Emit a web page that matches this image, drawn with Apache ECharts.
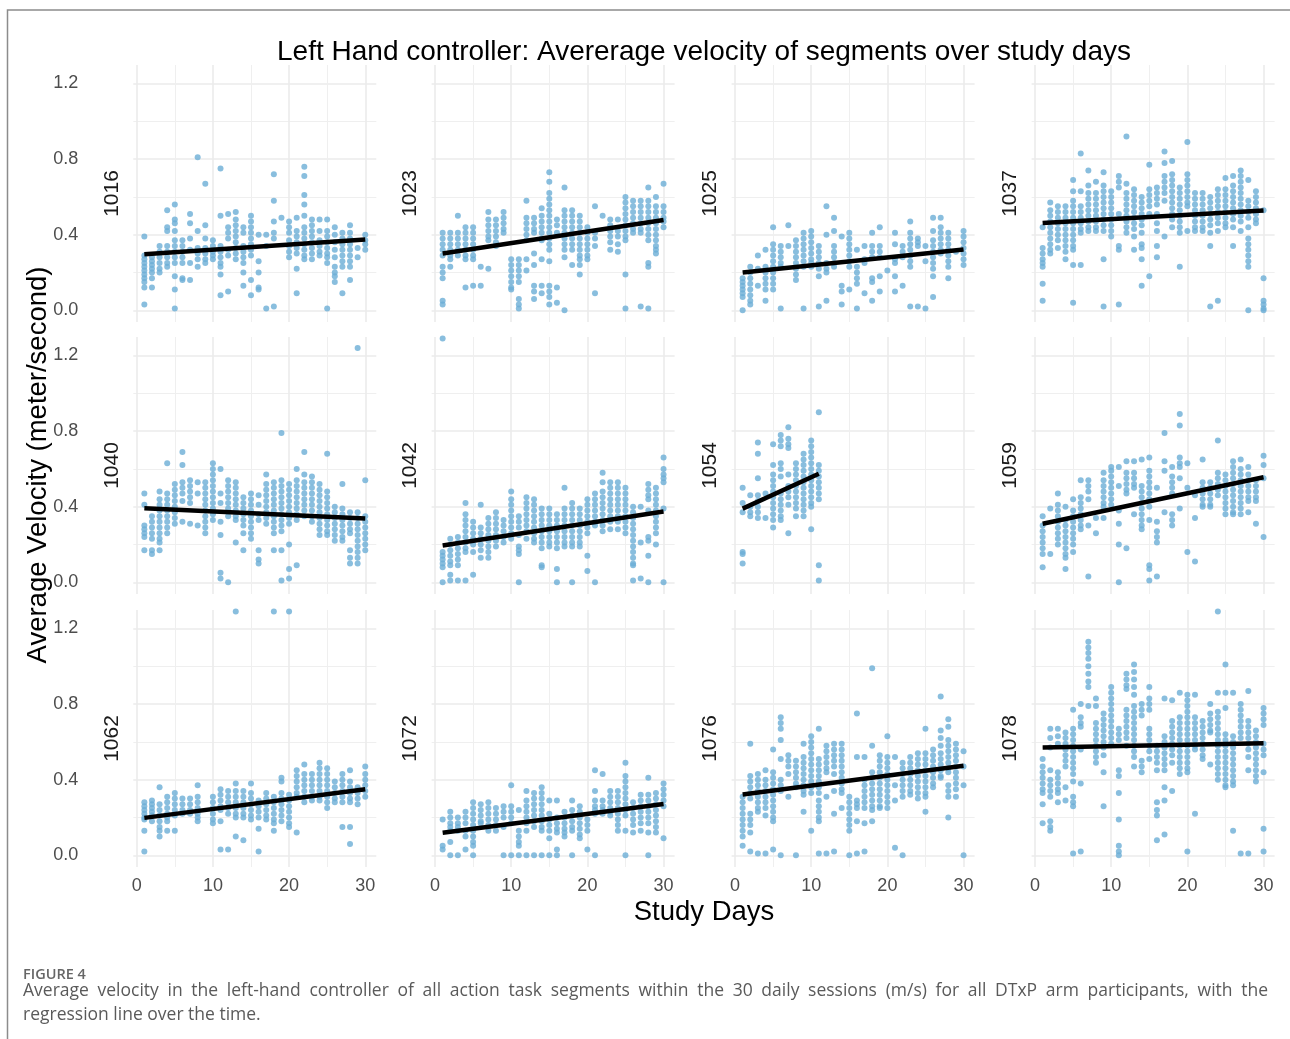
<!DOCTYPE html>
<html>
<head>
<meta charset="utf-8">
<title>Left Hand controller: average velocity</title>
<script src="https://cdn.jsdelivr.net/npm/echarts@6/dist/echarts.min.js"></script>
<style>
html, body { margin: 0; padding: 0; background: #fff; }
#chart { width: 1290px; height: 1039px; }
</style>
</head>
<body>
<div id="chart"></div>
<script>
// participants, in facet order (3 rows x 4 columns)
let participants = ['1016', '1023', '1025', '1037', '1040', '1042', '1054', '1059', '1062', '1072', '1076', '1078'];

// per participant: one list of segment velocities for each study day (day 1..30)
let v1016 = [
    [0.39,0.29,0.27,0.25,0.23,0.21,0.19,0.17,0.15,0.12,0.03], [0.28,0.26,0.24,0.22,0.20,0.17,0.12], [0.34,0.31,0.28,0.25,0.22,0.20],
    [0.53,0.44,0.42,0.34,0.31,0.28,0.25,0.23], [0.56,0.48,0.46,0.42,0.37,0.34,0.31,0.28,0.25,0.18,0.11,0.01], [0.37,0.34,0.31,0.28,0.25,0.17,0.16],
    [0.51,0.46,0.38,0.32,0.25,0.16], [0.81,0.42,0.33,0.30,0.27,0.23], [0.67,0.45,0.38,0.33,0.30,0.27,0.25],
    [0.37,0.34,0.31,0.29,0.27], [0.75,0.50,0.34,0.31,0.28,0.25,0.23,0.19,0.08], [0.51,0.44,0.41,0.38,0.32,0.29,0.10],
    [0.52,0.48,0.45,0.42,0.39,0.36,0.33,0.30,0.27], [0.44,0.41,0.34,0.31,0.28,0.25,0.20,0.13], [0.50,0.47,0.44,0.41,0.38,0.35,0.32,0.29,0.16,0.08],
    [0.40,0.26,0.20,0.12,0.11], [0.40,0.34,0.01], [0.72,0.58,0.47,0.41,0.38,0.02],
    [0.49], [0.47,0.44,0.41,0.37,0.34,0.31,0.28], [0.49,0.42,0.39,0.36,0.33,0.30,0.22,0.09],
    [0.76,0.71,0.61,0.56,0.50,0.44,0.41,0.38,0.35,0.32,0.29,0.27], [0.48,0.45,0.42,0.39,0.36,0.33,0.30,0.27], [0.48,0.42,0.37,0.34,0.31,0.29],
    [0.48,0.42,0.39,0.36,0.33,0.30,0.28,0.25,0.01], [0.44,0.40,0.36,0.32,0.28,0.23,0.20,0.18,0.15], [0.41,0.38,0.35,0.32,0.29,0.26,0.23,0.09],
    [0.45,0.41,0.38,0.35,0.32,0.29,0.26,0.23,0.16], [0.33,0.28], [0.40,0.37,0.35,0.32]
];
let v1023 = [
    [0.41,0.38,0.35,0.32,0.29,0.23,0.20,0.17,0.05,0.03], [0.41,0.38,0.35,0.32,0.29,0.27,0.23], [0.50,0.41,0.38,0.35,0.32,0.29],
    [0.44,0.41,0.38,0.35,0.32,0.29,0.27,0.12], [0.44,0.41,0.38,0.35,0.32,0.29,0.27,0.13], [0.23,0.13],
    [0.52,0.48,0.45,0.42,0.39,0.37,0.22], [0.48,0.45,0.42,0.39,0.36,0.34], [0.52,0.49,0.46,0.43,0.41],
    [0.27,0.24,0.21,0.18,0.15,0.12,0.11], [0.27,0.24,0.21,0.18,0.15,0.06,0.03,0.01], [0.58,0.49,0.46,0.43,0.40,0.37,0.27,0.21],
    [0.49,0.46,0.43,0.41,0.30,0.24,0.13,0.10,0.06], [0.54,0.50,0.47,0.44,0.41,0.38,0.37,0.27,0.13,0.09],
    [0.73,0.68,0.62,0.59,0.56,0.53,0.50,0.47,0.44,0.41,0.38,0.35,0.32,0.26,0.13,0.10,0.07,0.03],
    [0.48,0.45,0.41,0.12,0.04], [0.65,0.53,0.50,0.47,0.44,0.41,0.38,0.35,0.32,0.28,0.00], [0.53,0.50,0.47,0.44,0.41,0.38,0.35,0.32,0.24],
    [0.50,0.47,0.44,0.41,0.38,0.35,0.32,0.29,0.27,0.24,0.19], [0.44,0.41,0.38,0.35,0.32,0.29,0.27], [0.55,0.41,0.38,0.34,0.09],
    [0.50], [0.48,0.45,0.42,0.39,0.36,0.32], [0.48,0.42,0.39,0.35,0.31],
    [0.60,0.57,0.54,0.51,0.48,0.45,0.42,0.39,0.37,0.19,0.01], [0.58,0.55,0.52,0.49,0.46,0.43,0.41], [0.58,0.55,0.52,0.49,0.46,0.43,0.41,0.02],
    [0.65,0.58,0.55,0.52,0.49,0.46,0.43,0.40,0.37,0.25,0.23,0.01], [0.60,0.55,0.52,0.49,0.46,0.43,0.40,0.37,0.34,0.32,0.30], [0.67,0.55,0.52,0.49,0.47,0.44]
];
let v1025 = [
    [0.17,0.15,0.13,0.11,0.09,0.07,0.00], [0.23,0.20,0.17,0.14,0.11,0.08,0.05,0.03], [0.29,0.22,0.13],
    [0.32,0.23,0.20,0.17,0.14,0.11,0.05], [0.44,0.35,0.32,0.29,0.26,0.23,0.20,0.17,0.14,0.11], [0.34,0.31,0.28,0.25,0.23,0.01],
    [0.45,0.34], [0.37,0.34,0.31,0.28,0.25,0.22,0.19,0.16], [0.41,0.38,0.35,0.32,0.29,0.26,0.23,0.01],
    [0.42,0.39,0.36,0.33,0.30,0.27,0.25,0.23], [0.34,0.31,0.28,0.25,0.22,0.18,0.02], [0.55,0.40,0.25,0.22,0.20,0.05],
    [0.49,0.42,0.34,0.31,0.28,0.25,0.23], [0.39,0.13,0.10,0.03], [0.41,0.38,0.35,0.32,0.29,0.26,0.23,0.11],
    [0.32,0.23,0.20,0.17,0.14,0.01], [0.34,0.27,0.25,0.09], [0.41,0.34,0.31,0.28,0.17,0.15,0.05],
    [0.44,0.34,0.31,0.28,0.18,0.10], [0.21], [0.41,0.35,0.27,0.25,0.18,0.10],
    [0.34,0.31,0.28,0.13], [0.47,0.41,0.38,0.35,0.32,0.29,0.26,0.23,0.02], [0.38,0.36,0.34,0.02],
    [0.34,0.26,0.01], [0.49,0.42,0.37,0.34,0.31,0.28,0.25,0.22,0.18,0.07], [0.49,0.44,0.41,0.38,0.35,0.32,0.30],
    [0.41,0.38,0.35,0.32,0.29,0.26,0.23,0.17], [0.31], [0.42,0.39,0.36,0.33,0.30,0.27,0.24]
];
let v1037 = [
    [0.44,0.33,0.30,0.27,0.25,0.23,0.14,0.05], [0.57,0.53,0.50,0.47,0.44,0.41,0.38,0.35,0.32,0.30], [0.55,0.52,0.49,0.46,0.43,0.40,0.37,0.33],
    [0.55,0.52,0.49,0.46,0.43,0.40,0.37,0.34,0.31,0.27], [0.69,0.63,0.58,0.55,0.52,0.49,0.46,0.43,0.40,0.37,0.34,0.32,0.24,0.04],
    [0.83,0.63,0.55,0.52,0.49,0.46,0.43,0.41,0.24], [0.74,0.66,0.62,0.59,0.56,0.53,0.50,0.47,0.44,0.42],
    [0.68,0.62,0.59,0.56,0.53,0.50,0.47,0.44,0.42], [0.73,0.66,0.63,0.60,0.57,0.54,0.51,0.48,0.45,0.42,0.27,0.02],
    [0.63,0.60,0.57,0.54,0.51,0.48,0.45,0.42,0.39], [0.71,0.68,0.65,0.51,0.34,0.32,0.03], [0.92,0.67,0.62,0.59,0.56,0.53,0.50,0.47,0.44,0.41],
    [0.64,0.61,0.58,0.55,0.52,0.49,0.46,0.43,0.39,0.32], [0.60,0.57,0.54,0.51,0.48,0.45,0.41,0.35,0.33,0.27,0.13], [0.77,0.64,0.61,0.58,0.55,0.51,0.18],
    [0.65,0.62,0.59,0.56,0.51,0.46,0.42,0.34,0.28], [0.84,0.78,0.71,0.68,0.65,0.62,0.58,0.39], [0.79,0.72,0.69,0.66,0.63,0.60,0.57,0.54,0.51,0.48,0.44],
    [0.65,0.62,0.59,0.56,0.53,0.50,0.47,0.44,0.41,0.23], [0.89,0.72,0.69,0.66,0.63,0.60,0.57,0.55,0.42], [0.62,0.59,0.56,0.53,0.50,0.47,0.44,0.42],
    [0.62,0.59,0.56,0.53,0.50,0.47,0.44,0.42], [0.60,0.57,0.54,0.51,0.48,0.45,0.41,0.34,0.02], [0.64,0.61,0.58,0.55,0.52,0.49,0.46,0.42,0.05],
    [0.70,0.64,0.61,0.58,0.55,0.52,0.49,0.46,0.44], [0.71,0.66,0.63,0.60,0.57,0.54,0.51,0.48,0.44,0.34], [0.74,0.71,0.68,0.65,0.62,0.59,0.56,0.53,0.50,0.47,0.42],
    [0.69,0.58,0.55,0.52,0.49,0.44,0.38,0.35,0.32,0.29,0.26,0.23,0.00], [0.63,0.60,0.57,0.54,0.51,0.48,0.46], [0.53,0.17,0.05,0.03,0.01,0.00]
];
let v1040 = [
    [0.47,0.41,0.30,0.28,0.26,0.24,0.17], [0.35,0.32,0.29,0.26,0.23,0.17,0.15], [0.48,0.44,0.41,0.38,0.35,0.32,0.29,0.26,0.23,0.21,0.17],
    [0.63,0.47,0.44,0.41,0.38,0.35,0.32,0.29,0.26], [0.52,0.49,0.46,0.43,0.40,0.37,0.34,0.31], [0.69,0.62,0.53,0.50,0.47,0.43,0.32],
    [0.54,0.51,0.48,0.45,0.42,0.31], [0.53,0.47,0.30], [0.53,0.50,0.47,0.44,0.41,0.38,0.35,0.32,0.29,0.26],
    [0.63,0.60,0.57,0.54,0.51,0.48,0.45,0.42,0.39,0.36,0.33], [0.60,0.47,0.42,0.32,0.25,0.05,0.02], [0.54,0.51,0.48,0.45,0.42,0.39,0.35,0.00],
    [0.53,0.50,0.47,0.44,0.41,0.38,0.35,0.33,0.21], [0.45,0.42,0.39,0.36,0.33,0.30,0.26,0.17], [0.47,0.44,0.41,0.38,0.35,0.32,0.29,0.26,0.23],
    [0.46,0.41,0.36,0.33,0.17,0.12,0.10], [0.57,0.52,0.49,0.46,0.43,0.40,0.37,0.34,0.31], [0.53,0.50,0.47,0.44,0.41,0.38,0.35,0.32,0.29,0.26,0.17],
    [0.79,0.54,0.51,0.48,0.45,0.42,0.39,0.36,0.33,0.30,0.27,0.17,0.01], [0.52,0.49,0.46,0.43,0.40,0.37,0.34,0.31,0.20,0.07,0.02],
    [0.60,0.54,0.51,0.48,0.45,0.42,0.39,0.36,0.33,0.09], [0.69,0.57,0.53,0.50,0.47,0.44,0.41,0.38,0.35], [0.56,0.53,0.50,0.47,0.44,0.41,0.38,0.35,0.32],
    [0.52,0.49,0.46,0.43,0.40,0.37,0.34,0.31,0.28,0.25], [0.68,0.48,0.45,0.42,0.39,0.36,0.33,0.30,0.27,0.25], [0.40,0.37,0.34,0.31,0.28,0.25,0.22],
    [0.52,0.39,0.36,0.33,0.30,0.27,0.24,0.22], [0.37,0.34,0.31,0.28,0.26,0.17,0.13,0.10], [1.24,0.37,0.34,0.31,0.28,0.25,0.22,0.19,0.16,0.13,0.10],
    [0.54,0.35,0.32,0.29,0.26,0.23,0.20,0.17]
];
let v1042 = [
    [1.29,0.16,0.14,0.12,0.10,0.08,0.00], [0.23,0.20,0.17,0.14,0.11,0.09,0.04,0.01], [0.24,0.21,0.18,0.15,0.12,0.09,0.01],
    [0.42,0.36,0.33,0.30,0.27,0.24,0.21,0.18,0.16,0.01], [0.32,0.29,0.26,0.23,0.20,0.16,0.04], [0.41,0.29,0.26,0.23,0.20,0.17,0.13],
    [0.34,0.31,0.28,0.25,0.22,0.19,0.16,0.13], [0.37,0.34,0.31,0.28,0.25,0.22,0.19], [0.33,0.30,0.27,0.24,0.21],
    [0.48,0.44,0.41,0.38,0.35,0.32,0.29,0.26,0.23], [0.35,0.32,0.29,0.25,0.19,0.17,0.15,0.00], [0.45,0.42,0.39,0.36,0.33,0.30,0.27,0.23],
    [0.44,0.41,0.38,0.35,0.32,0.29,0.26,0.23,0.21], [0.39,0.36,0.33,0.30,0.27,0.24,0.21,0.18,0.09,0.08], [0.39,0.36,0.33,0.30,0.27,0.24,0.21,0.19],
    [0.36,0.33,0.30,0.27,0.24,0.21,0.18,0.07,0.00], [0.50,0.39,0.36,0.33,0.30,0.27,0.24,0.21,0.19], [0.42,0.39,0.36,0.33,0.30,0.27,0.24,0.21,0.19,0.00],
    [0.39,0.36,0.33,0.30,0.27,0.24,0.21,0.19], [0.44,0.41,0.38,0.35,0.32,0.29,0.26,0.14,0.06], [0.47,0.44,0.41,0.38,0.35,0.32,0.30,0.00],
    [0.58,0.53,0.48,0.45,0.42,0.39,0.36,0.33,0.30,0.27], [0.53,0.50,0.47,0.44,0.41,0.38,0.35,0.32,0.28], [0.53,0.50,0.47,0.44,0.41,0.38,0.35,0.32,0.28],
    [0.50,0.47,0.44,0.41,0.38,0.35,0.32,0.29,0.26], [0.40,0.37,0.34,0.31,0.28,0.25,0.22,0.19,0.16,0.13,0.10,0.09,0.01], [0.40,0.21,0.02],
    [0.52,0.49,0.46,0.44,0.38,0.24,0.22,0.14,0.00], [0.50,0.47,0.44,0.41,0.38,0.35,0.32,0.29,0.26,0.20], [0.66,0.60,0.57,0.55,0.53,0.39,0.00]
];
let v1054 = [
    [0.50,0.42,0.37,0.16,0.15,0.10], [0.46,0.40,0.37,0.35], [0.74,0.68,0.55,0.46,0.43,0.40,0.37,0.34], [0.47,0.34],
    [0.73,0.62,0.57,0.54,0.51,0.48,0.45,0.42,0.39,0.36,0.33,0.29], [0.78,0.75,0.72,0.63,0.60,0.56,0.47,0.44,0.41,0.38,0.35,0.33],
    [0.82,0.76,0.73,0.71,0.57,0.51,0.48,0.45,0.41,0.26], [0.63,0.60,0.57,0.54,0.51,0.48,0.45,0.42,0.39,0.35],
    [0.68,0.65,0.62,0.59,0.56,0.53,0.50,0.47,0.44,0.41,0.38,0.35], [0.75,0.72,0.69,0.66,0.63,0.60,0.57,0.54,0.51,0.48,0.45,0.42,0.40,0.28],
    [0.90,0.62,0.59,0.56,0.53,0.50,0.47,0.44,0.09,0.01],
    [], [], [], [], [], [], [], [], [], [], [], [], [], [], [], [], [], [], []
];
let v1059 = [
    [0.35,0.30,0.27,0.24,0.21,0.18,0.15,0.08], [0.39,0.15], [0.47,0.41,0.38,0.35,0.32,0.29,0.26,0.23,0.20],
    [0.40,0.33,0.30,0.27,0.24,0.21,0.18,0.15,0.13,0.07], [0.44,0.38,0.35,0.32,0.29,0.26,0.23,0.20,0.16], [0.54,0.45,0.42,0.39,0.36,0.33,0.30,0.28],
    [0.54,0.51,0.48,0.44,0.30,0.03], [0.34,0.26], [0.58,0.54,0.51,0.48,0.45,0.42,0.40,0.34],
    [0.61,0.59,0.56,0.53,0.50,0.47,0.44,0.41], [0.61,0.51,0.38,0.31,0.20,0.00], [0.64,0.58,0.55,0.52,0.49,0.47,0.18],
    [0.64,0.58,0.55,0.52,0.50,0.36], [0.65,0.51,0.48,0.45,0.42,0.39,0.36,0.33,0.30,0.28], [0.66,0.59,0.56,0.53,0.50,0.47,0.44,0.40,0.33,0.09,0.07,0.01],
    [0.50,0.32,0.27,0.24,0.21,0.03], [0.79,0.64,0.59,0.37], [0.61,0.56,0.53,0.50,0.47,0.36,0.33,0.30],
    [0.89,0.83,0.66,0.63,0.61,0.55,0.39], [0.63,0.50,0.16], [0.46,0.34,0.11],
    [0.65,0.53,0.50,0.47,0.44,0.41,0.40], [0.53,0.50,0.47,0.44,0.41,0.40], [0.75,0.58,0.55,0.52,0.49,0.46],
    [0.57,0.54,0.51,0.48,0.45,0.42,0.39,0.36], [0.64,0.61,0.58,0.55,0.52,0.49,0.46,0.43,0.40,0.37,0.36], [0.65,0.60,0.57,0.54,0.51,0.48,0.45,0.42,0.39,0.36],
    [0.61,0.57,0.54,0.51,0.48,0.45,0.43,0.37], [0.54,0.51,0.48,0.45,0.43,0.31], [0.67,0.62,0.55,0.24]
];
let v1062 = [
    [0.28,0.26,0.24,0.22,0.20,0.19,0.13,0.02], [0.29,0.27,0.25,0.23,0.21,0.18], [0.36,0.27,0.24,0.21,0.18,0.15,0.13,0.10],
    [0.31,0.28,0.25,0.22,0.20,0.18,0.13], [0.33,0.30,0.27,0.24,0.21,0.13], [0.30,0.27,0.24,0.22],
    [0.30,0.27,0.24,0.22], [0.37,0.31,0.28,0.25,0.22,0.20,0.18], [],
    [0.31,0.28,0.25,0.22,0.19,0.17], [0.35,0.32,0.29,0.26,0.24,0.18,0.03], [0.34,0.31,0.28,0.25,0.22,0.03],
    [1.29,0.38,0.34,0.31,0.28,0.25,0.22,0.20,0.10], [0.34,0.31,0.28,0.25,0.22,0.20,0.08], [0.38,0.33,0.30,0.27,0.24,0.21,0.19],
    [0.29,0.26,0.23,0.20,0.14,0.02], [0.33,0.30,0.27,0.24,0.21,0.19], [1.29,0.31,0.28,0.25,0.22,0.19,0.17,0.13],
    [0.41,0.39,0.33,0.30,0.27,0.24,0.21,0.18], [1.29,0.32,0.29,0.26,0.23,0.20,0.17,0.15], [0.45,0.42,0.39,0.36,0.33,0.31,0.12],
    [0.48,0.43,0.40,0.37,0.34,0.31,0.28], [0.43,0.40,0.37,0.34,0.31,0.29], [0.49,0.46,0.43,0.40,0.37,0.34,0.31,0.29],
    [0.46,0.43,0.40,0.37,0.34,0.31,0.28,0.25], [0.39,0.36,0.33,0.30,0.28], [0.43,0.40,0.37,0.34,0.31,0.28,0.15],
    [0.45,0.39,0.36,0.33,0.30,0.28,0.15,0.06], [0.36,0.33,0.30,0.27], [0.47,0.43,0.40,0.37,0.34,0.31]
];
let v1072 = [
    [0.19,0.05,0.03], [0.23,0.20,0.17,0.15,0.13,0.07,0.00], [0.20,0.17,0.15,0.13,0.00],
    [0.23,0.20,0.17,0.13,0.10,0.03], [0.28,0.25,0.22,0.19,0.16,0.13,0.10,0.07,0.05,0.00], [0.27,0.24,0.21,0.18,0.17],
    [0.28,0.25,0.22,0.19,0.16,0.13], [0.25,0.22,0.19,0.16,0.13], [0.26,0.23,0.20,0.15,0.00],
    [0.37,0.26,0.23,0.20,0.17,0.00], [0.24,0.13,0.10,0.07,0.05,0.00], [0.34,0.29,0.26,0.23,0.20,0.17,0.13,0.00],
    [0.33,0.30,0.27,0.24,0.21,0.18,0.15,0.00], [0.36,0.33,0.30,0.27,0.24,0.21,0.18,0.15,0.13,0.00], [0.29,0.22,0.19,0.16,0.13,0.09,0.00],
    [0.29,0.20,0.17,0.14,0.12,0.03,0.00], [0.23,0.20,0.17,0.14,0.12,0.10], [0.29,0.24,0.21,0.18,0.15,0.13,0.00],
    [0.26,0.23,0.20,0.17,0.14,0.11,0.09], [0.19,0.16,0.13,0.03], [0.45,0.34,0.29,0.26,0.24,0.22,0.00],
    [0.43,0.29,0.26,0.24,0.22], [0.34,0.31,0.28,0.25,0.23,0.21], [0.34,0.31,0.28,0.25,0.22,0.19,0.16,0.13],
    [0.49,0.42,0.39,0.36,0.33,0.30,0.27,0.24,0.21,0.13,0.00], [0.28,0.25,0.22,0.19,0.16,0.12], [0.32,0.29,0.26,0.23,0.20,0.17,0.13],
    [0.41,0.32,0.29,0.26,0.23,0.20,0.17,0.12,0.00], [0.33,0.30,0.27,0.24,0.21,0.18,0.15,0.12], [0.38,0.35,0.32,0.29,0.26,0.09]
];
let v1076 = [
    [0.31,0.28,0.25,0.22,0.19,0.16,0.13,0.10,0.05], [0.59,0.42,0.39,0.36,0.33,0.30,0.22,0.19,0.16,0.12,0.02], [0.43,0.40,0.37,0.34,0.31,0.28,0.25,0.23,0.01],
    [0.45,0.40,0.37,0.34,0.31,0.28,0.25,0.21,0.01], [0.56,0.44,0.41,0.38,0.35,0.32,0.29,0.26,0.23,0.20,0.18,0.03], [0.73,0.70,0.67,0.61,0.51,0.40,0.37,0.34,0.00],
    [0.53,0.50,0.47,0.43,0.31], [0.50,0.47,0.44,0.41,0.38,0.36,0.00], [0.59,0.52,0.49,0.46,0.43,0.40,0.37,0.34,0.32,0.23],
    [0.63,0.60,0.57,0.54,0.51,0.48,0.45,0.42,0.39,0.36,0.33,0.13], [0.67,0.51,0.48,0.45,0.42,0.39,0.36,0.33,0.29,0.26,0.23,0.20,0.18,0.01],
    [0.58,0.55,0.52,0.49,0.46,0.44,0.31,0.01], [0.59,0.56,0.53,0.50,0.47,0.43,0.34,0.22,0.02], [0.59,0.56,0.53,0.50,0.47,0.44,0.41,0.38,0.35,0.33,0.25],
    [0.31,0.28,0.25,0.22,0.19,0.16,0.13,0.00], [0.75,0.52,0.29,0.27,0.25,0.18,0.01], [0.52,0.40,0.37,0.34,0.31,0.28,0.25,0.17,0.02],
    [0.99,0.58,0.44,0.41,0.38,0.35,0.32,0.29,0.26,0.24,0.18], [0.53,0.50,0.47,0.44,0.41,0.38,0.35,0.32,0.29,0.26,0.25],
    [0.63,0.52,0.49,0.46,0.43,0.40,0.37,0.34,0.31,0.28,0.25], [0.52,0.37,0.29,0.04], [0.49,0.46,0.43,0.40,0.37,0.34,0.31,0.00],
    [0.52,0.49,0.46,0.43,0.40,0.37,0.34,0.32], [0.54,0.51,0.48,0.45,0.42,0.39,0.36,0.33,0.30], [0.67,0.54,0.51,0.48,0.45,0.42,0.39,0.36,0.33,0.31,0.23],
    [0.56,0.53,0.50,0.47,0.44,0.41,0.38,0.36], [0.84,0.66,0.62,0.58,0.54,0.51,0.48,0.45,0.42,0.41],
    [0.72,0.68,0.61,0.58,0.55,0.52,0.49,0.46,0.44,0.37,0.34,0.31,0.20], [0.59,0.56,0.53,0.50,0.47,0.44,0.41,0.38,0.35,0.31], [0.55,0.47,0.37,0.00]
];
let v1078 = [
    [0.51,0.47,0.44,0.41,0.38,0.35,0.33,0.27,0.17], [0.67,0.62,0.57,0.45,0.40,0.37,0.34,0.31,0.18,0.15,0.13], [0.67,0.63,0.59,0.44,0.41,0.38,0.35,0.33,0.28],
    [0.65,0.62,0.59,0.56,0.53,0.50,0.47,0.36,0.29], [0.77,0.67,0.64,0.61,0.58,0.55,0.52,0.49,0.46,0.43,0.39,0.31,0.28,0.26,0.01],
    [0.80,0.73,0.70,0.68,0.56,0.38,0.02], [1.13,1.10,1.07,1.04,1.00,0.96,0.92,0.89,0.79], [0.83,0.79,0.70,0.67,0.64,0.61,0.58,0.55,0.52,0.49],
    [0.75,0.72,0.69,0.66,0.63,0.60,0.57,0.53,0.44,0.26], [0.89,0.86,0.83,0.80,0.77,0.74,0.71,0.68,0.65,0.62,0.59],
    [0.67,0.64,0.61,0.45,0.42,0.33,0.19,0.05,0.02,0.00], [0.96,0.93,0.90,0.88,0.77,0.74,0.71,0.68,0.65,0.62,0.58],
    [1.01,0.97,0.93,0.89,0.85,0.79,0.76,0.73,0.70,0.67,0.64,0.61,0.58,0.55,0.52,0.47], [0.80,0.77,0.74,0.50,0.47,0.44],
    [0.89,0.83,0.80,0.77,0.67,0.64,0.61,0.58,0.55,0.51], [0.58,0.55,0.52,0.49,0.45,0.28,0.24,0.21,0.08],
    [0.83,0.63,0.60,0.57,0.54,0.51,0.48,0.45,0.36,0.29,0.11], [0.82,0.71,0.68,0.65,0.62,0.59,0.56,0.53,0.49,0.34],
    [0.86,0.73,0.70,0.67,0.64,0.61,0.58,0.55,0.52,0.49,0.46,0.43], [0.85,0.82,0.79,0.76,0.73,0.70,0.67,0.64,0.61,0.58,0.55,0.52,0.49,0.46,0.44,0.02],
    [0.85,0.73,0.70,0.67,0.64,0.61,0.58,0.56,0.22], [0.71,0.68,0.65,0.62,0.59,0.56,0.53,0.51], [0.80,0.75,0.72,0.69,0.66,0.65,0.48],
    [1.29,0.86,0.76,0.73,0.70,0.67,0.64,0.61,0.58,0.55,0.52,0.49,0.46,0.43,0.40], [1.01,0.86,0.78,0.64,0.61,0.58,0.55,0.52,0.49,0.46,0.43,0.40,0.37,0.36],
    [0.86,0.63,0.60,0.57,0.54,0.51,0.48,0.45,0.42,0.39,0.37,0.13], [0.80,0.77,0.74,0.71,0.68,0.65,0.62,0.01],
    [0.87,0.71,0.68,0.65,0.62,0.59,0.56,0.52,0.45,0.01], [0.66,0.63,0.60,0.57,0.54,0.51,0.48,0.45,0.42,0.39], [0.78,0.75,0.72,0.69,0.59,0.56,0.53,0.44,0.14,0.02]
];
let panelValues = [v1016, v1023, v1025, v1037, v1040, v1042, v1054, v1059, v1062, v1072, v1076, v1078];

// regression line ends
let trendFromDay = [1, 1, 1, 1, 1, 1, 1, 1, 1, 1, 1, 1];
let trendToDay = [30, 30, 30, 30, 30, 30, 11, 30, 30, 30, 30, 30];
let trendFrom = [0.297, 0.300, 0.200, 0.462, 0.392, 0.195, 0.390, 0.310, 0.198, 0.119, 0.322, 0.570];
let trendTo = [0.375, 0.478, 0.322, 0.528, 0.337, 0.375, 0.574, 0.556, 0.350, 0.271, 0.474, 0.593];

// ticks
let xTicks = [0, 10, 20, 30];
let xMinorTicks = [5, 15, 25];
let yTicks = [0, 0.4, 0.8, 1.2];
let yMinorTicks = [0.2, 0.6, 1.0];

// layout
let colLeft = [133.3, 431.6, 731.6, 1031.6];
let rowTop = [65, 337, 610];
let panelW = 243;
let panelH = 257;
let font = '"Liberation Sans", Arial, sans-serif';
let captionFont = '"Open Sans", sans-serif';

let grids = [];
let xAxes = [];
let yAxes = [];
let series = [];

participants.forEach(function (name, i) {
    let row = Math.floor(i / 4);
    let col = i % 4;
    grids.push({ left: colLeft[col], top: rowTop[row], width: panelW, height: panelH, outerBoundsMode: 'none' });

    // major grid + labels
    xAxes.push({
        gridIndex: i, type: 'value', position: 'bottom', min: -0.45, max: 31.45,
        axisLine: { show: false },
        axisTick: { show: false, customValues: xTicks },
        axisLabel: { show: row === 2, customValues: xTicks, margin: 10, color: '#4d4d4d', fontSize: 18, fontFamily: font },
        splitLine: { show: true, lineStyle: { color: '#ebebeb', width: 1.6 } }
    });
    // minor grid
    xAxes.push({
        gridIndex: i, type: 'value', position: 'top', min: -0.45, max: 31.45,
        axisLine: { show: false },
        axisTick: { show: false, customValues: xMinorTicks },
        axisLabel: { show: false },
        splitLine: { show: true, lineStyle: { color: '#efefef', width: 1 } }
    });
    yAxes.push({
        gridIndex: i, type: 'value', position: 'left', min: -0.062, max: 1.298,
        name: name, nameLocation: 'middle', nameRotate: 90, nameGap: 11, nameMoveOverlap: false,
        nameTextStyle: { fontSize: 21, color: '#1a1a1a', fontFamily: font },
        axisLine: { show: false },
        axisTick: { show: false, customValues: yTicks },
        axisLabel: {
            show: col === 0, customValues: yTicks, margin: 55, color: '#4d4d4d', fontSize: 18, fontFamily: font,
            formatter: function (v) { return v.toFixed(1); }
        },
        splitLine: { show: true, lineStyle: { color: '#ebebeb', width: 1.6 } }
    });
    yAxes.push({
        gridIndex: i, type: 'value', position: 'right', min: -0.062, max: 1.298,
        axisLine: { show: false },
        axisTick: { show: false, customValues: yMinorTicks },
        axisLabel: { show: false },
        splitLine: { show: true, lineStyle: { color: '#efefef', width: 1 } }
    });

    let points = [];
    panelValues[i].forEach(function (vals, d) {
        vals.forEach(function (v) { points.push([d + 1, v]); });
    });
    series.push({
        type: 'scatter', xAxisIndex: 2 * i, yAxisIndex: 2 * i,
        data: points, symbol: 'circle', symbolSize: 6,
        itemStyle: { color: '#6baed6' }, silent: true, z: 2
    });
    series.push({
        type: 'line', xAxisIndex: 2 * i, yAxisIndex: 2 * i,
        data: [[trendFromDay[i], trendFrom[i]], [trendToDay[i], trendTo[i]]],
        symbol: 'none', lineStyle: { color: '#000', width: 4.5 }, silent: true, z: 3
    });
});

function textEl(text, x, y, fontStr, fill, align, rotation) {
    return {
        type: 'text', x: x, y: y, rotation: rotation || 0,
        style: { text: text, font: fontStr, fill: fill, align: align, verticalAlign: 'middle', textAlign: align, textVerticalAlign: 'middle' }
    };
}

// caption line 1 is justified across the figure width, word by word
function justifiedLine(text, x, y, width, fontStr, fill) {
    let ctx = document.createElement('canvas').getContext('2d');
    ctx.font = fontStr;
    let words = text.split(' ');
    let widths = words.map(function (w) { return ctx.measureText(w).width; });
    let total = widths.reduce(function (s, w) { return s + w; }, 0);
    let gap = (width - total) / (words.length - 1);
    let els = [];
    let cx = x;
    words.forEach(function (w, k) {
        els.push(textEl(w, cx, y, fontStr, fill, 'left'));
        cx += widths[k] + gap;
    });
    return els;
}

let captionStyle = '17.5px ' + captionFont;
let graphics = [
    { type: 'polyline', shape: { points: [[1290, 10], [7.5, 10], [7.5, 1039]] }, style: { stroke: '#8c8c8c', lineWidth: 1.5, fill: null } },
    textEl('Left Hand controller: Avererage velocity of segments over study days', 704, 52, '28px ' + font, '#000', 'center'),
    textEl('Average Velocity (meter/second)', 38, 465, '27.5px ' + font, '#000', 'center', Math.PI / 2),
    textEl('Study Days', 704, 912, '27.5px ' + font, '#000', 'center'),
    textEl('FIGURE 4', 23, 975, '600 14.5px ' + captionFont, '#666', 'left'),
    textEl('regression line over the time.', 23, 1015, captionStyle, '#5a5a5a', 'left')
].concat(justifiedLine('Average velocity in the left-hand controller of all action task segments within the 30 daily sessions (m/s) for all DTxP arm participants, with the',
    23, 991, 1245, captionStyle, '#5a5a5a'));

let option = {
    backgroundColor: '#ffffff',
    animation: false,
    grid: grids,
    xAxis: xAxes,
    yAxis: yAxes,
    series: series,
    graphic: graphics
};

let chart = echarts.init(document.getElementById('chart'));
chart.setOption(option);
</script>
</body>
</html>
